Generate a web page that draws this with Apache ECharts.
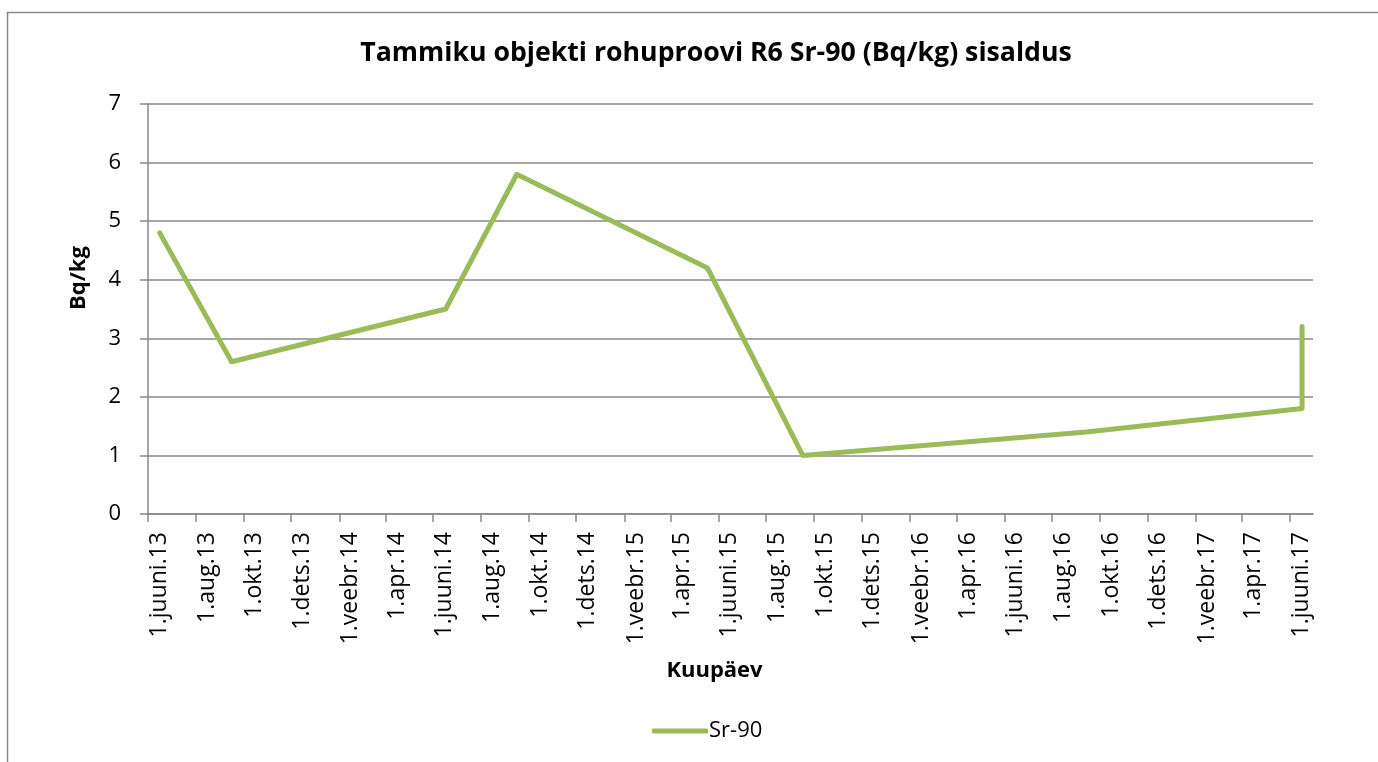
<!DOCTYPE html>
<html>
<head>
<meta charset="utf-8">
<script src="https://cdn.jsdelivr.net/npm/echarts@6/dist/echarts.min.js"></script>
<style>
    html, body { margin: 0; padding: 0; background: #fff; }
    #chart { width: 1378px; height: 762px; }
</style>
</head>
<body>
<div id="chart"></div>
<script>
// proovivõtu kuupäevad ja Sr-90 sisaldus (Bq/kg)
var sampleDates = ['2013-06-16', '2013-09-16', '2014-06-17', '2014-09-16', '2015-05-18',
                   '2015-09-17', '2016-09-14', '2017-06-17', '2017-06-17'];
var sr90 = [4.8, 2.6, 3.5, 5.8, 4.2, 1.0, 1.4, 1.8, 3.2];

// x-telje jaotised
var tickDates = ['2013-06-01', '2013-08-01', '2013-10-01', '2013-12-01', '2014-02-01', '2014-04-01',
                 '2014-06-01', '2014-08-01', '2014-10-01', '2014-12-01', '2015-02-01', '2015-04-01',
                 '2015-06-01', '2015-08-01', '2015-10-01', '2015-12-01', '2016-02-01', '2016-04-01',
                 '2016-06-01', '2016-08-01', '2016-10-01', '2016-12-01', '2017-02-01', '2017-04-01',
                 '2017-06-01'];
var tickLabels = ['1.juuni.13', '1.aug.13', '1.okt.13', '1.dets.13', '1.veebr.14', '1.apr.14',
                  '1.juuni.14', '1.aug.14', '1.okt.14', '1.dets.14', '1.veebr.15', '1.apr.15',
                  '1.juuni.15', '1.aug.15', '1.okt.15', '1.dets.15', '1.veebr.16', '1.apr.16',
                  '1.juuni.16', '1.aug.16', '1.okt.16', '1.dets.16', '1.veebr.17', '1.apr.17',
                  '1.juuni.17'];
var axisStart = '2013-06-01';
var axisEnd = '2017-07-01';

// päevade arv alguskuupäevast
function toDay(s) {
    var p = s.split('-');
    var q = axisStart.split('-');
    return Math.round((Date.UTC(+p[0], +p[1] - 1, +p[2]) - Date.UTC(+q[0], +q[1] - 1, +q[2])) / 86400000);
}

var tickDays = tickDates.map(toDay);
var labelByDay = {};
tickDays.forEach(function(t, i) { labelByDay[t] = tickLabels[i]; });

var seriesData = sampleDates.map(function(d, i) { return [toDay(d), sr90[i]]; });

var font = '"Open Sans", sans-serif';
var gray = '#898989';
var green = '#9BBB59';

var myChart = echarts.init(document.getElementById('chart'));
myChart.setOption({
    animation: false,
    backgroundColor: '#fff',
    title: {
        text: 'Tammiku objekti rohuproovi R6 Sr-90 (Bq/kg) sisaldus',
        left: 711,
        top: 35,
        textAlign: 'center',
        textStyle: {
            fontFamily: font,
            fontWeight: 'bold',
            fontSize: 26.7,
            color: '#000'
        }
    },
    legend: {
        left: 647,
        top: 715,
        icon: 'roundRect',
        itemWidth: 56,
        itemHeight: 5,
        itemGap: 10,
        textStyle: {
            fontFamily: font,
            fontSize: 22,
            color: '#000',
            padding: [0, 0, 0, -4]
        },
        data: ['Sr-90']
    },
    graphic: [{
        type: 'rect',
        shape: { x: 7.5, y: 12.5, width: 1500, height: 1000 },
        style: { fill: 'none', stroke: gray, lineWidth: 1.5 },
        z: -1
    }],
    grid: {
        left: 148,
        right: 65,
        top: 104,
        bottom: 248,
        containLabel: false,
        outerBoundsMode: 'none'
    },
    xAxis: {
        type: 'value',
        min: 0,
        max: toDay(axisEnd),
        name: 'Kuupäev',
        nameLocation: 'middle',
        nameGap: 146,
        nameTextStyle: {
            fontFamily: font,
            fontWeight: 'bold',
            fontSize: 22,
            color: '#000',
            padding: [0, 32, 0, 0]
        },
        axisLine: { show: true, lineStyle: { color: gray, width: 1.5 } },
        axisTick: {
            show: true,
            length: 8,
            customValues: tickDays,
            lineStyle: { color: gray, width: 1.5 }
        },
        axisLabel: {
            customValues: tickDays,
            rotate: 90,
            margin: 18,
            fontFamily: font,
            fontSize: 23,
            color: '#000',
            verticalAlign: 'top',
            formatter: function(value) {
                return labelByDay[value] || '';
            }
        },
        splitLine: { show: false }
    },
    yAxis: {
        type: 'value',
        min: 0,
        max: 7,
        interval: 1,
        name: 'Bq/kg',
        nameLocation: 'middle',
        nameGap: 58,
        nameTextStyle: {
            fontFamily: font,
            fontWeight: 'bold',
            fontSize: 22,
            color: '#000',
            padding: [0, 0, 0, 62]
        },
        axisLine: { show: true, lineStyle: { color: gray, width: 1.5 } },
        axisTick: { show: true, length: 8, lineStyle: { color: gray, width: 1.5 } },
        axisLabel: {
            margin: 27,
            fontFamily: font,
            fontSize: 22,
            color: '#000'
        },
        splitLine: { show: true, lineStyle: { color: gray, width: 1.5 } }
    },
    series: [{
        name: 'Sr-90',
        type: 'line',
        showSymbol: false,
        symbol: 'none',
        itemStyle: { color: green },
        lineStyle: { color: green, width: 5, cap: 'round', join: 'round' },
        data: seriesData
    }]
});
</script>
</body>
</html>
